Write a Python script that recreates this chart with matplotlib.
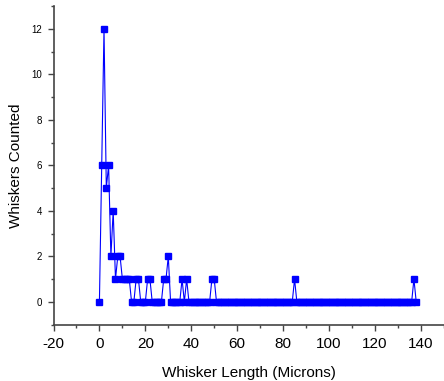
import matplotlib
matplotlib.use("Agg")
import matplotlib.pyplot as plt
from matplotlib.ticker import MultipleLocator

plt.rcParams['font.family'] = ['Liberation Sans', 'DejaVu Sans']
plt.rcParams['axes.unicode_minus'] = False

# whisker length bins (microns) and counts
lengths = list(range(0, 139))
counts = [0] * len(lengths)
nonzero = {
    1: 6, 2: 12, 3: 5, 4: 6, 5: 2, 6: 4, 7: 1, 8: 2, 9: 2,
    10: 1, 11: 1, 12: 1, 13: 1, 16: 1, 17: 1, 21: 1, 22: 1,
    28: 1, 29: 1, 30: 2, 36: 1, 38: 1, 49: 1, 50: 1, 85: 1, 137: 1,
}
for k, v in nonzero.items():
    counts[k] = v

fig = plt.figure(figsize=(4.44, 3.81), dpi=100)
ax = fig.add_axes([0.1205, 0.148, 0.879, 0.836])

ax.plot(lengths, counts, color='#0000ff', lw=0.8, marker='s', ms=5,
        mec='#0000ff', mfc='#0000ff')

ax.set_xlim(-20, 150)
ax.set_ylim(-1, 13)
ax.xaxis.set_major_locator(MultipleLocator(20))
ax.xaxis.set_minor_locator(MultipleLocator(10))
ax.yaxis.set_major_locator(MultipleLocator(2))
ax.yaxis.set_minor_locator(MultipleLocator(1))

for s in ['top', 'right']:
    ax.spines[s].set_visible(False)
for s in ['left', 'bottom']:
    ax.spines[s].set_color('#444444')
    ax.spines[s].set_linewidth(1.2)

ax.tick_params(axis='both', which='major', direction='out', length=4,
               width=1, color='#444444')
ax.tick_params(axis='both', which='minor', direction='out', length=2.5,
               width=1, color='#444444')
ax.tick_params(axis='x', labelsize=11, pad=5)
ax.tick_params(axis='y', labelsize=7, pad=4)

ax.set_xlabel('Whisker Length (Microns)', fontsize=11, labelpad=11)
ax.set_ylabel('Whiskers Counted', fontsize=11, labelpad=6)

fig.savefig('out.png', dpi=100)
